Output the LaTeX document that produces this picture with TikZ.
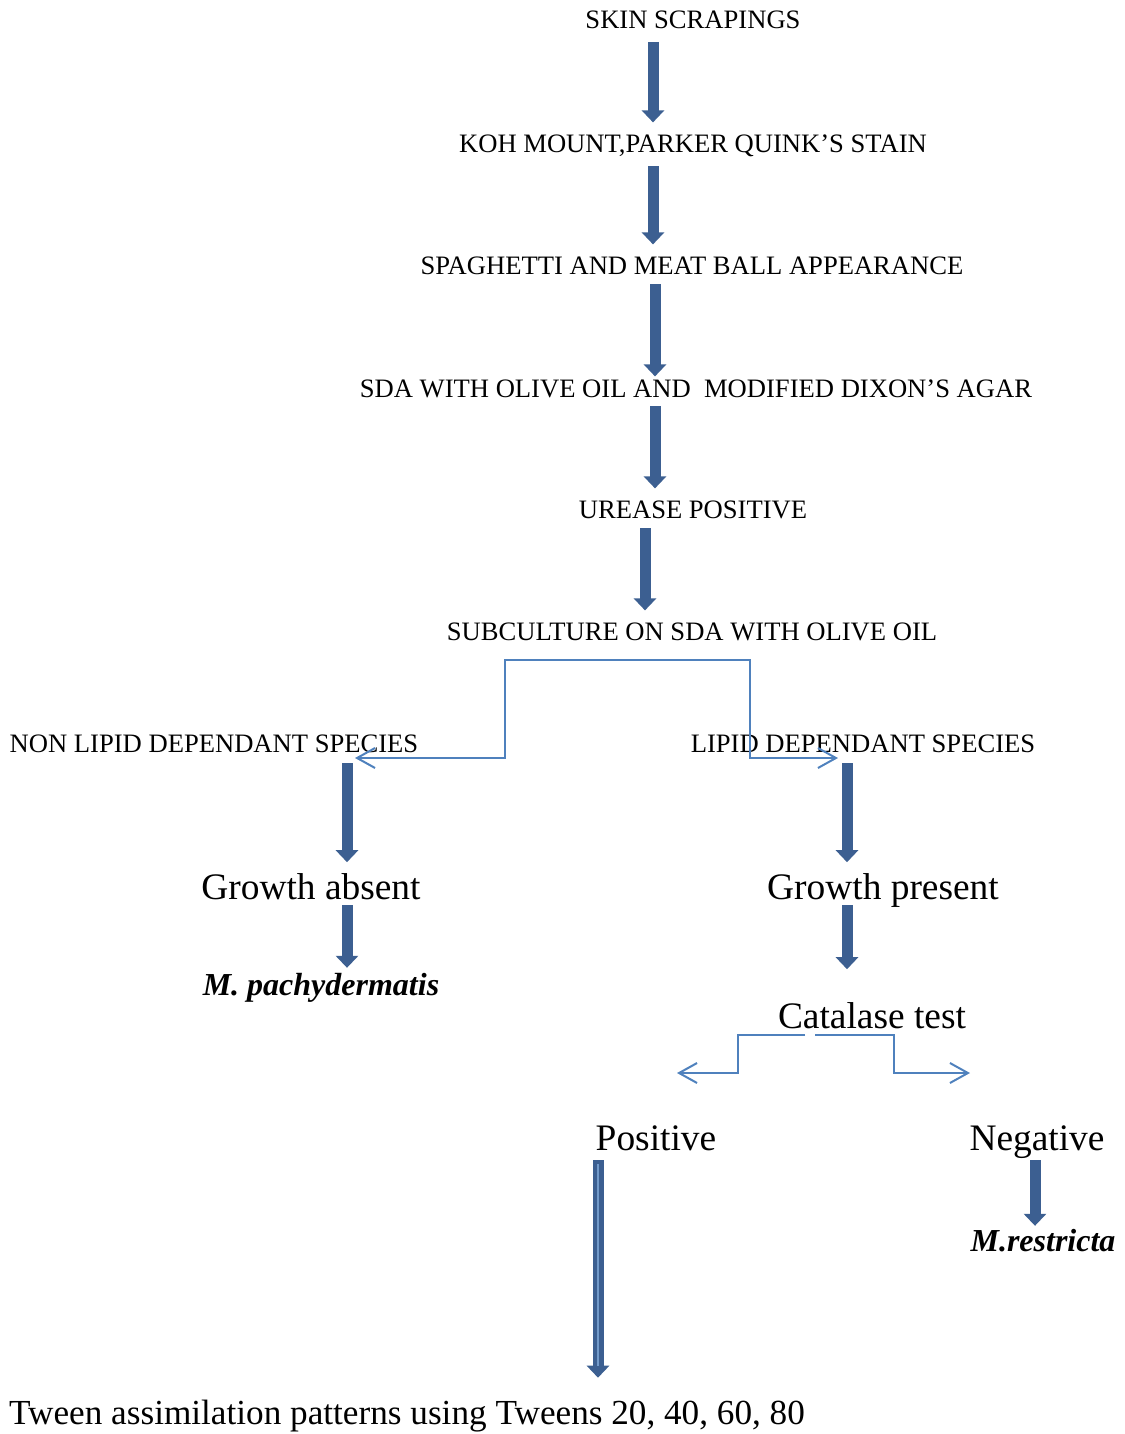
\documentclass[tikz,border=0pt]{standalone}
\usepackage{fontspec}
\setmainfont{Liberation Serif}
\usepackage{xcolor}
\definecolor{flowblue}{RGB}{60,95,145}
\definecolor{linkblue}{RGB}{79,129,189}
\usetikzlibrary{arrows.meta}

\tikzset{
  flowtext/.style={inner sep=0pt, outer sep=0pt, anchor=base, text height=8.8pt, text depth=0pt, font=\fontsize{13.3}{15}\selectfont},
  bigtext/.style={inner sep=0pt, outer sep=0pt, anchor=base, text height=12.4pt, text depth=0pt, font=\fontsize{18.7}{22}\selectfont},
  species/.style={inner sep=0pt, outer sep=0pt, anchor=base, text height=10.6pt, text depth=0pt, font=\fontsize{16}{19}\selectfont\bfseries\itshape},
  blockarrow/.style={draw=flowblue, line width=5.5pt, -{Triangle[width=11pt,length=6pt]}, shorten <=6pt, shorten >=6pt},
  branch/.style={draw=linkblue, line width=1pt, -{Straight Barb[length=9pt,width=10pt]}}
}

\begin{document}
\begin{tikzpicture}[x=0.5pt, y=-0.5pt]
  \useasboundingbox (0,0) rectangle (1124,1434);

  %% Main column
  \node[flowtext] (skin)  at (693,29)  {SKIN SCRAPINGS};
  \node[flowtext] (koh)   at (693,152) {KOH MOUNT,PARKER QUINK’S STAIN};
  \node[flowtext] (spag)  at (692,274) {SPAGHETTI AND MEAT BALL APPEARANCE};
  \node[flowtext] (sda)   at (696,397) {SDA WITH OLIVE OIL AND\ \ MODIFIED DIXON’S AGAR};
  \node[flowtext] (urease) at (693,518) {UREASE POSITIVE};
  \node[flowtext] (subc)  at (692,640) {SUBCULTURE ON SDA WITH OLIVE OIL};

  \draw[blockarrow, shorten <=6.5pt] (653,0 |- skin.south)   -- (653,0 |- koh.north);
  \draw[blockarrow, shorten <=7pt] (653,0 |- koh.south)  -- (653,0 |- spag.north);
  \draw[blockarrow, shorten <=5pt, shorten >=1.5pt] (655,0 |- spag.south) -- (655,0 |- sda.north);
  \draw[blockarrow, shorten <=4.5pt] (655,0 |- sda.south)    -- (655,0 |- urease.north);
  \draw[blockarrow, shorten <=5pt] (645,0 |- urease.south) -- (645,0 |- subc.north);

  %% Split on lipid dependence
  \node[flowtext] (nonlipid) at (214,752) {NON LIPID DEPENDANT SPECIES};
  \node[flowtext] (lipid)    at (863,752) {LIPID DEPENDANT SPECIES};
  \coordinate (subsplit) at (659,660);
  \coordinate (nonlipidend) at (355,758);
  \coordinate (lipidend) at (838,758);
  \draw[branch] (subsplit) -| (505,758) -- (nonlipidend);
  \draw[branch] (subsplit) -| (750,758) -- (lipidend);

  %% Left branch
  \node[bigtext] (absent) at (311,899) {Growth absent};
  \node[species] (pachy)  at (321,995) {M. pachydermatis};
  \draw[blockarrow, shorten <=5.5pt] (347,0 |- nonlipid.south) -- (347,0 |- absent.north);
  \draw[blockarrow, shorten <=3pt, shorten >=3pt] (347,0 |- absent.south) -- (347,0 |- pachy.north);

  %% Right branch
  \node[bigtext] (present)  at (883,899)  {Growth present};
  \node[bigtext] (catalase) at (872,1028) {Catalase test};
  \draw[blockarrow, shorten <=5.5pt] (847,0 |- lipid.south) -- (847,0 |- present.north);
  \draw[blockarrow, shorten <=3pt, shorten >=17pt] (847,0 |- present.south) -- (847,0 |- catalase.north);

  %% Catalase result
  \node[bigtext] (positive) at (656,1150)  {Positive};
  \node[bigtext] (negative) at (1037,1150) {Negative};
  \coordinate (catleft) at (805,1035);
  \coordinate (catright) at (815,1035);
  \coordinate (posend) at (677,1073);
  \coordinate (negend) at (970,1073);
  \draw[branch] (catleft) -| (738,1073) -- (posend);
  \draw[branch] (catright) -| (894,1073) -- (negend);

  \node[species] (restricta) at (1043,1251) {M.restricta};
  \node[inner sep=0pt, outer sep=0pt, anchor=base, text height=11.65pt, text depth=0pt, font=\fontsize{17.6}{21}\selectfont] (tween) at (407,1424) {Tween assimilation patterns using Tweens 20, 40, 60, 80};
  \draw[blockarrow, shorten <=5pt, shorten >=11.5pt] (598,0 |- positive.south) -- (598,0 |- tween.north);
  \draw[linkblue!80, line width=1pt, shorten <=7pt, shorten >=17.5pt] (598,0 |- positive.south) -- (598,0 |- tween.north);
  \draw[blockarrow, shorten <=5pt, shorten >=2pt] (1035,0 |- negative.south) -- (1035,0 |- restricta.north);
\end{tikzpicture}
\end{document}
